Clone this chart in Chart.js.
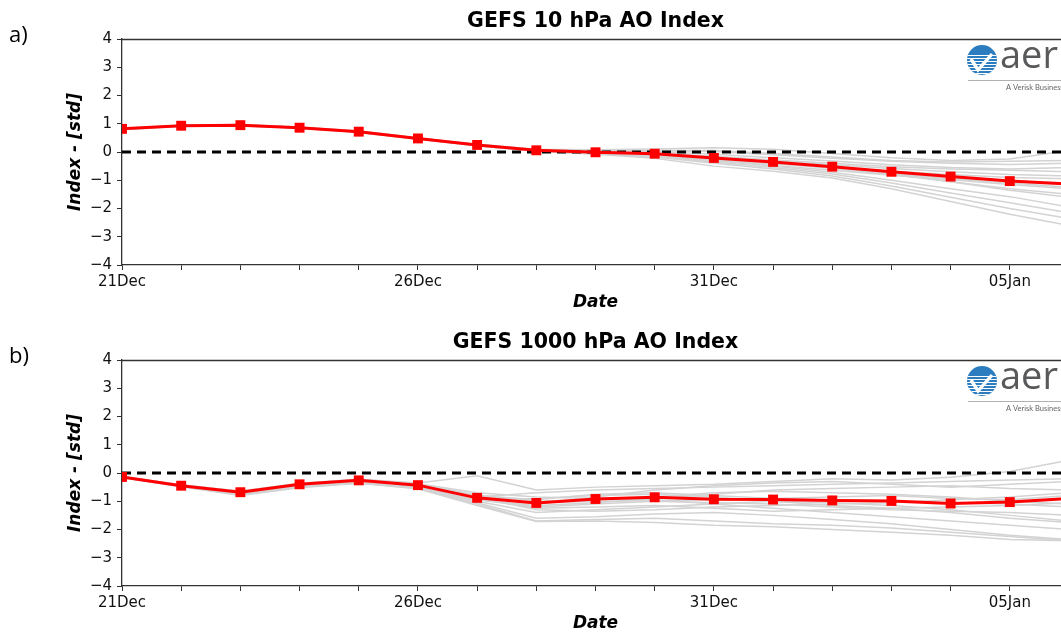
<!DOCTYPE html>
<html><head><meta charset="utf-8">
<script src="https://cdn.jsdelivr.net/npm/chart.js@4.4.1/dist/chart.umd.min.js"></script>
<style>
html,body{margin:0;padding:0;background:#fff;overflow:hidden;width:1061px;height:632px;}
canvas{position:absolute;left:0;}
#ca{top:0px}
#cb{top:321px}
</style></head><body>
<canvas id="ca" width="1080" height="316"></canvas>
<canvas id="cb" width="1080" height="316"></canvas>
<script>
// ---------- DATA ----------
const days = [0,1,2,3,4,5,6,7,8,9,10,11,12,13,14,15,16];
const xTickDays = [0,5,10,15];
const xTickLabels = ['21Dec','26Dec','31Dec','05Jan'];
const yTickValues = [-4,-3,-2,-1,0,1,2,3,4];
const zeroLine = [0,0];

const titleA = 'GEFS 10 hPa AO Index';
const titleB = 'GEFS 1000 hPa AO Index';
const panelA = 'a)';
const panelB = 'b)';
const xTitle = 'Date';
const yTitle = 'Index - [std]';

// 10 hPa ensemble mean
const meanA = [0.82,0.93,0.95,0.86,0.72,0.48,0.25,0.06,-0.01,-0.06,-0.21,-0.35,-0.52,-0.70,-0.87,-1.03,-1.13];
// 10 hPa ensemble members
const membersA = [
 [0.80,0.92,0.96,0.88,0.74,0.50,0.27,0.10,0.08,0.11,0.15,0.10,-0.05,-0.20,-0.30,-0.25,0.05],
 [0.82,0.94,0.97,0.87,0.73,0.49,0.26,0.08,0.04,0.04,0.02,-0.10,-0.22,-0.33,-0.40,-0.44,-0.40],
 [0.81,0.93,0.95,0.86,0.71,0.47,0.24,0.05,-0.02,-0.08,-0.20,-0.32,-0.45,-0.58,-0.70,-0.80,-0.85],
 [0.83,0.94,0.96,0.85,0.70,0.46,0.23,0.04,-0.05,-0.14,-0.32,-0.48,-0.65,-0.82,-0.98,-1.15,-1.30],
 [0.80,0.92,0.94,0.84,0.71,0.47,0.25,0.06,0.00,-0.04,-0.15,-0.28,-0.40,-0.52,-0.60,-0.65,-0.70],
 [0.82,0.93,0.95,0.86,0.72,0.48,0.24,0.05,-0.03,-0.10,-0.25,-0.40,-0.58,-0.80,-1.05,-1.30,-1.50],
 [0.81,0.92,0.94,0.85,0.72,0.49,0.26,0.07,0.01,-0.05,-0.18,-0.30,-0.50,-0.75,-1.05,-1.35,-1.60],
 [0.82,0.93,0.95,0.86,0.72,0.48,0.25,0.06,-0.05,-0.15,-0.35,-0.55,-0.78,-1.10,-1.45,-1.80,-2.15],
 [0.83,0.94,0.96,0.87,0.73,0.48,0.24,0.04,-0.06,-0.18,-0.40,-0.60,-0.85,-1.20,-1.60,-2.00,-2.35],
 [0.81,0.93,0.95,0.86,0.71,0.46,0.22,0.03,-0.08,-0.22,-0.50,-0.68,-0.92,-1.30,-1.75,-2.20,-2.60],
 [0.82,0.93,0.94,0.85,0.70,0.45,0.22,0.03,-0.06,-0.14,-0.30,-0.42,-0.55,-0.68,-0.80,-0.90,-0.95],
 [0.80,0.91,0.93,0.84,0.70,0.46,0.24,0.07,0.03,0.02,-0.08,-0.20,-0.32,-0.45,-0.55,-0.60,-0.55],
 [0.83,0.95,0.97,0.88,0.74,0.50,0.27,0.08,0.05,0.06,0.05,-0.05,-0.18,-0.30,-0.35,-0.33,-0.30],
 [0.81,0.92,0.95,0.85,0.71,0.47,0.24,0.05,-0.02,-0.09,-0.24,-0.38,-0.55,-0.72,-0.90,-1.05,-1.15],
 [0.82,0.93,0.96,0.87,0.72,0.48,0.25,0.06,-0.01,-0.07,-0.22,-0.38,-0.56,-0.75,-0.95,-1.10,-1.25],
 [0.82,0.94,0.95,0.86,0.72,0.47,0.23,0.04,-0.04,-0.11,-0.27,-0.50,-0.72,-1.00,-1.30,-1.58,-1.95]
];

// 1000 hPa ensemble mean
const meanB = [-0.14,-0.45,-0.68,-0.40,-0.26,-0.43,-0.88,-1.06,-0.92,-0.86,-0.93,-0.94,-0.97,-0.99,-1.08,-1.03,-0.90];
// 1000 hPa ensemble members
const membersB = [
 [-0.12,-0.42,-0.65,-0.38,-0.22,-0.35,-0.10,-0.60,-0.50,-0.45,-0.40,-0.30,-0.20,-0.25,-0.15,0.05,0.45],
 [-0.15,-0.47,-0.72,-0.45,-0.30,-0.48,-0.95,-1.20,-1.10,-1.00,-1.05,-1.10,-1.20,-1.30,-1.35,-1.40,-1.50],
 [-0.13,-0.44,-0.70,-0.42,-0.27,-0.45,-0.85,-0.70,-0.60,-0.55,-0.50,-0.45,-0.40,-0.35,-0.30,-0.25,-0.20],
 [-0.16,-0.48,-0.78,-0.50,-0.35,-0.55,-1.10,-1.70,-1.65,-1.60,-1.70,-1.80,-1.85,-1.95,-2.10,-2.25,-2.40],
 [-0.14,-0.46,-0.66,-0.38,-0.24,-0.40,-0.80,-0.95,-0.75,-0.70,-0.80,-0.90,-0.85,-0.80,-0.90,-0.95,-0.80],
 [-0.15,-0.45,-0.74,-0.47,-0.32,-0.50,-1.00,-1.40,-1.30,-1.20,-1.10,-1.00,-1.05,-1.15,-1.30,-1.50,-1.70],
 [-0.13,-0.43,-0.64,-0.36,-0.22,-0.38,-0.70,-0.85,-0.90,-0.95,-1.10,-1.25,-1.40,-1.55,-1.70,-1.85,-2.00],
 [-0.14,-0.46,-0.70,-0.44,-0.29,-0.46,-0.95,-1.15,-1.05,-0.90,-0.75,-0.60,-0.55,-0.50,-0.45,-0.55,-0.60],
 [-0.15,-0.47,-0.75,-0.48,-0.33,-0.52,-1.05,-1.60,-1.55,-1.45,-1.40,-1.50,-1.65,-1.80,-2.00,-2.20,-2.35],
 [-0.12,-0.43,-0.67,-0.39,-0.25,-0.41,-0.78,-1.00,-0.95,-0.85,-0.70,-0.65,-0.70,-0.75,-0.85,-1.00,-1.10],
 [-0.14,-0.44,-0.68,-0.40,-0.26,-0.44,-0.90,-1.25,-1.20,-1.15,-1.25,-1.35,-1.30,-1.25,-1.20,-1.15,-1.05],
 [-0.13,-0.45,-0.66,-0.38,-0.24,-0.40,-0.82,-1.10,-0.85,-0.60,-0.45,-0.35,-0.30,-0.40,-0.50,-0.40,-0.30],
 [-0.16,-0.49,-0.80,-0.52,-0.36,-0.56,-1.15,-1.72,-1.70,-1.75,-1.85,-1.90,-2.00,-2.10,-2.20,-2.35,-2.40],
 [-0.14,-0.45,-0.69,-0.41,-0.27,-0.44,-0.88,-1.05,-1.00,-0.98,-0.95,-0.92,-0.95,-0.98,-1.05,-1.10,-1.20],
 [-0.13,-0.44,-0.67,-0.39,-0.25,-0.42,-0.86,-1.30,-1.35,-1.30,-1.20,-1.15,-1.10,-1.05,-0.95,-0.85,-0.70],
 [-0.15,-0.46,-0.71,-0.43,-0.28,-0.47,-0.92,-0.90,-0.80,-0.75,-0.85,-1.00,-1.15,-1.25,-1.40,-1.60,-1.75]
];

// ---------- BUILD ----------
const toPts = arr => arr.map((v,i)=>({x:days[i], y:v}));
const FONT = "'DejaVu Sans', sans-serif";

function drawLogo(ctx, cx, cy){
  const r = 15;
  ctx.save();
  ctx.beginPath(); ctx.arc(cx, cy, r, 0, Math.PI*2); ctx.closePath();
  ctx.fillStyle = '#2c7cc0'; ctx.fill();
  ctx.clip();
  ctx.strokeStyle = '#ffffff'; ctx.lineWidth = 1;
  for (let yy = cy-5; yy <= cy+r; yy += 3){
    ctx.beginPath(); ctx.moveTo(cx-r, yy+0.5); ctx.lineTo(cx+r, yy+0.5); ctx.stroke();
  }
  ctx.restore();
  ctx.save();
  ctx.strokeStyle = '#ffffff'; ctx.lineWidth = 3.4; ctx.lineJoin='miter';
  ctx.beginPath(); ctx.moveTo(cx-11, cy-1); ctx.lineTo(cx-4, cy+10); ctx.lineTo(cx+10, cy-6); ctx.stroke();
  ctx.restore();
  ctx.save();
  ctx.fillStyle = '#58595b';
  ctx.font = "38px 'Open Sans', Lato, sans-serif";
  ctx.textBaseline = 'alphabetic'; ctx.textAlign='left';
  ctx.fillText('aer', cx+18, cy+8);
  ctx.strokeStyle = '#b0b0b0'; ctx.lineWidth = 1;
  ctx.beginPath(); ctx.moveTo(cx-14, cy+20.5); ctx.lineTo(cx+100, cy+20.5); ctx.stroke();
  ctx.fillStyle = '#666';
  ctx.font = "7.5px Lato, 'Open Sans', sans-serif";
  ctx.fillText('A Verisk Business', cx+24, cy+30);
  ctx.restore();
}

function makeChart(id, title, letter, mean, members){
  const datasets = [];
  datasets.push({data: toPts(mean), borderColor:'#ff0000', backgroundColor:'#ff0000',
    borderWidth:3, pointStyle:'rect', pointRadius:7, pointBorderWidth:0, pointHoverRadius:7,
    tension:0, order:0});
  datasets.push({data: [{x:days[0],y:zeroLine[0]},{x:days[days.length-1],y:zeroLine[1]}],
    borderColor:'#000000', borderWidth:3, borderDash:[9,6], pointRadius:0, tension:0, order:1});
  members.forEach(m=>datasets.push({data: toPts(m), borderColor:'#d3d3d3', borderWidth:1.5,
    pointRadius:0, tension:0, order:2}));

  const deco = {
    id:'deco'+id,
    afterDraw(chart){
      const ctx = chart.ctx, a = chart.chartArea;
      ctx.save();
      ctx.strokeStyle = '#333'; ctx.lineWidth = 1.3;
      ctx.beginPath(); ctx.moveTo(a.left, a.top+0.5); ctx.lineTo(chart.width, a.top+0.5); ctx.stroke();
      ctx.fillStyle = '#000';
      ctx.font = "22px 'Open Sans', 'Liberation Sans', sans-serif";
      ctx.textBaseline='alphabetic'; ctx.textAlign='left';
      ctx.fillText(letter, 9, 42);
      ctx.restore();
      drawLogo(ctx, 982, 60);
    }
  };

  return new Chart(document.getElementById(id), {
    type:'line',
    data:{datasets},
    plugins:[deco],
    options:{
      responsive:false, animation:false, devicePixelRatio:1,
      layout:{padding:{left:0,right:11,top:0,bottom:0}},
      plugins:{
        legend:{display:false}, tooltip:{enabled:false},
        title:{display:true, text:title, fullSize:false, color:'#000',
          font:{family:FONT, weight:'bold', size:20.5, lineHeight:1.2},
          padding:{top:9.4,bottom:5}}
      },
      scales:{
        x:{type:'linear', min:days[0], max:days[days.length-1],
          afterFit(s){ s.height = 51; },
          ticks:{stepSize:1, autoSkip:false, maxRotation:0, minRotation:0, padding:3,
            color:'#111', font:{family:FONT, size:15},
            callback:(v)=>{ const i = xTickDays.indexOf(v); return i>=0 ? xTickLabels[i] : ''; }},
          grid:{display:true, drawOnChartArea:false, drawTicks:true, tickLength:5, tickColor:'#333', tickWidth:1},
          border:{display:true, color:'#333', width:1.3},
          title:{display:true, text:xTitle, color:'#000', padding:{top:0,bottom:3},
            font:{family:FONT, weight:'bold', style:'italic', size:17, lineHeight:1.2}}
        },
        y:{type:'linear', min:yTickValues[0], max:yTickValues[yTickValues.length-1],
          afterFit(s){ s.width = 122; },
          afterBuildTicks(s){ s.ticks = yTickValues.map(v=>({value:v})); },
          ticks:{padding:5, color:'#111', font:{family:FONT, size:15},
            callback:(v)=> v<0 ? '\u2212'+Math.abs(v) : String(v)},
          grid:{display:true, drawOnChartArea:false, drawTicks:true, tickLength:5, tickColor:'#333', tickWidth:1},
          border:{display:true, color:'#333', width:1.3},
          title:{display:true, text:yTitle, color:'#000', padding:{top:65,bottom:0},
            font:{family:FONT, weight:'bold', style:'italic', size:17, lineHeight:1.2}}
        }
      }
    }
  });
}

makeChart('ca', titleA, panelA, meanA, membersA);
makeChart('cb', titleB, panelB, meanB, membersB);
</script>
</body></html>
